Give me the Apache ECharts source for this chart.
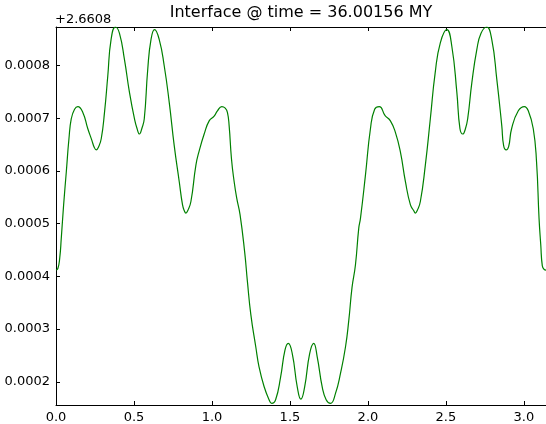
<!DOCTYPE html>
<html>
<head>
<meta charset="utf-8">
<script src="https://cdn.jsdelivr.net/npm/echarts@6/dist/echarts.min.js"></script>
<style>
html,body{margin:0;padding:0;background:#fff;}
#chart{width:546px;height:424px;}
</style>
</head>
<body>
<div id="chart"></div>
<script>
// Chart text
const titleText = 'Interface @ time = 36.00156 MY';
const offsetText = '+2.6608';

// x positions (radians)
const xValues = [
  0.000, 0.012, 0.024, 0.034, 0.049, 0.066, 0.083, 0.098, 0.119, 0.140,
  0.172, 0.204, 0.230, 0.245, 0.258, 0.272, 0.290, 0.311, 0.332, 0.353,
  0.381, 0.407, 0.439, 0.471, 0.503, 0.520, 0.535, 0.550, 0.566, 0.588,
  0.609, 0.632, 0.662, 0.694, 0.726, 0.758, 0.790, 0.811, 0.822, 0.833,
  0.845, 0.865, 0.897, 0.918, 0.950, 0.982, 1.014, 1.035, 1.063, 1.085,
  1.099, 1.110, 1.125, 1.142, 1.159, 1.180, 1.210, 1.227, 1.249, 1.281,
  1.302, 1.334, 1.366, 1.383, 1.408, 1.440, 1.468, 1.489, 1.515, 1.547,
  1.570, 1.594, 1.626, 1.652, 1.675, 1.707, 1.732, 1.760, 1.792, 1.824,
  1.856, 1.877, 1.898, 1.920, 1.941, 1.952, 1.984, 2.016, 2.043, 2.073,
  2.110, 2.144, 2.176, 2.208, 2.240, 2.272, 2.293, 2.304, 2.316, 2.336,
  2.368, 2.400, 2.431, 2.464, 2.506, 2.538, 2.570, 2.590, 2.608, 2.625,
  2.640, 2.666, 2.698, 2.725, 2.761, 2.794, 2.826, 2.858, 2.870, 2.886,
  2.902, 2.921, 2.964, 3.003, 3.028, 3.060, 3.081, 3.097, 3.108, 3.118,
  3.130, 3.1416
];

// interface height minus the offset 2.6608
const interfaceValues = [
  0.000412, 0.000415, 0.000435, 0.000473, 0.000536, 0.000598, 0.000661, 0.000699, 0.000717, 0.000722,
  0.000711, 0.000680, 0.000658, 0.000645, 0.000640, 0.000645, 0.000661, 0.000711, 0.000780, 0.000849,
  0.000873, 0.000861, 0.000811, 0.000749, 0.000699, 0.000680, 0.000670, 0.000680, 0.000699, 0.000792,
  0.000849, 0.000868, 0.000849, 0.000799, 0.000730, 0.000648, 0.000580, 0.000536, 0.000525, 0.000520,
  0.000525, 0.000542, 0.000611, 0.000638, 0.000670, 0.000695, 0.000704, 0.000714, 0.000722, 0.000719,
  0.000711, 0.000686, 0.000623, 0.000580, 0.000548, 0.000517, 0.000445, 0.000391, 0.000328, 0.000266,
  0.000228, 0.000191, 0.000166, 0.000159, 0.000166, 0.000209, 0.000260, 0.000273, 0.000253, 0.000190,
  0.000167, 0.000190, 0.000253, 0.000273, 0.000247, 0.000190, 0.000166, 0.000159, 0.000178, 0.000216,
  0.000266, 0.000316, 0.000379, 0.000422, 0.000491, 0.000510, 0.000592, 0.000680, 0.000717, 0.000722,
  0.000705, 0.000695, 0.000673, 0.000636, 0.000580, 0.000536, 0.000525, 0.000520, 0.000525, 0.000542,
  0.000611, 0.000699, 0.000786, 0.000843, 0.000868, 0.000836, 0.000749, 0.000680, 0.000670, 0.000680,
  0.000700, 0.000767, 0.000830, 0.000861, 0.000873, 0.000849, 0.000774, 0.000686, 0.000648, 0.000640,
  0.000646, 0.000680, 0.000714, 0.000722, 0.000714, 0.000680, 0.000617, 0.000510, 0.000460, 0.000420,
  0.000413, 0.000412
];

// axis settings
const xMin = 0, xMax = Math.PI, xStep = 0.5;
const yMin = 0.000156, yMax = 0.000873, yStep = 0.0001;

const seriesData = xValues.map((x, i) => [x, interfaceValues[i]]);

const chart = echarts.init(document.getElementById('chart'), null, {renderer: 'canvas'});
const FONT = 'DejaVu Sans';
const axisCommon = {
  axisLine: {show: true, onZero: false, lineStyle: {color: '#000', width: 1}},
  axisTick: {show: true, inside: true, length: 4, lineStyle: {color: '#000', width: 1}},
  splitLine: {show: false}
};
chart.setOption({
  animation: false,
  backgroundColor: '#fff',
  grid: {left: 56, right: -2, top: 27, bottom: 16, containLabel: false},
  graphic: [
    {type: 'text', x: 301, y: 5, style: {text: titleText, font: '16px "DejaVu Sans"', fill: '#000', align: 'center', verticalAlign: 'top'}},
    {type: 'text', left: 55, top: 13, style: {text: offsetText, font: '13px "DejaVu Sans"', fill: '#000'}}
  ],
  xAxis: [
    Object.assign({}, axisCommon, {
      type: 'value', position: 'bottom', min: xMin, max: xMax, interval: xStep,
      axisLabel: {show: true, margin: 6, color: '#000', fontSize: 13, fontFamily: FONT,
        showMaxLabel: false, formatter: v => v.toFixed(1)}
    }),
    Object.assign({}, axisCommon, {
      type: 'value', position: 'top', min: xMin, max: xMax, interval: xStep,
      axisLabel: {show: false}
    })
  ],
  yAxis: [
    Object.assign({}, axisCommon, {
      type: 'value', position: 'left', min: yMin, max: yMax,
      minInterval: yStep, maxInterval: yStep, splitNumber: 7,
      axisLabel: {show: true, margin: 6, color: '#000', fontSize: 13, fontFamily: FONT,
        showMinLabel: false, showMaxLabel: false, formatter: v => v.toFixed(4)}
    })
  ],
  series: [{
    type: 'line',
    xAxisIndex: 0,
    data: seriesData,
    showSymbol: false,
    smooth: 0.5,
    lineStyle: {color: '#008000', width: 1.2},
    itemStyle: {color: '#008000'}
  }]
});
</script>
</body>
</html>
